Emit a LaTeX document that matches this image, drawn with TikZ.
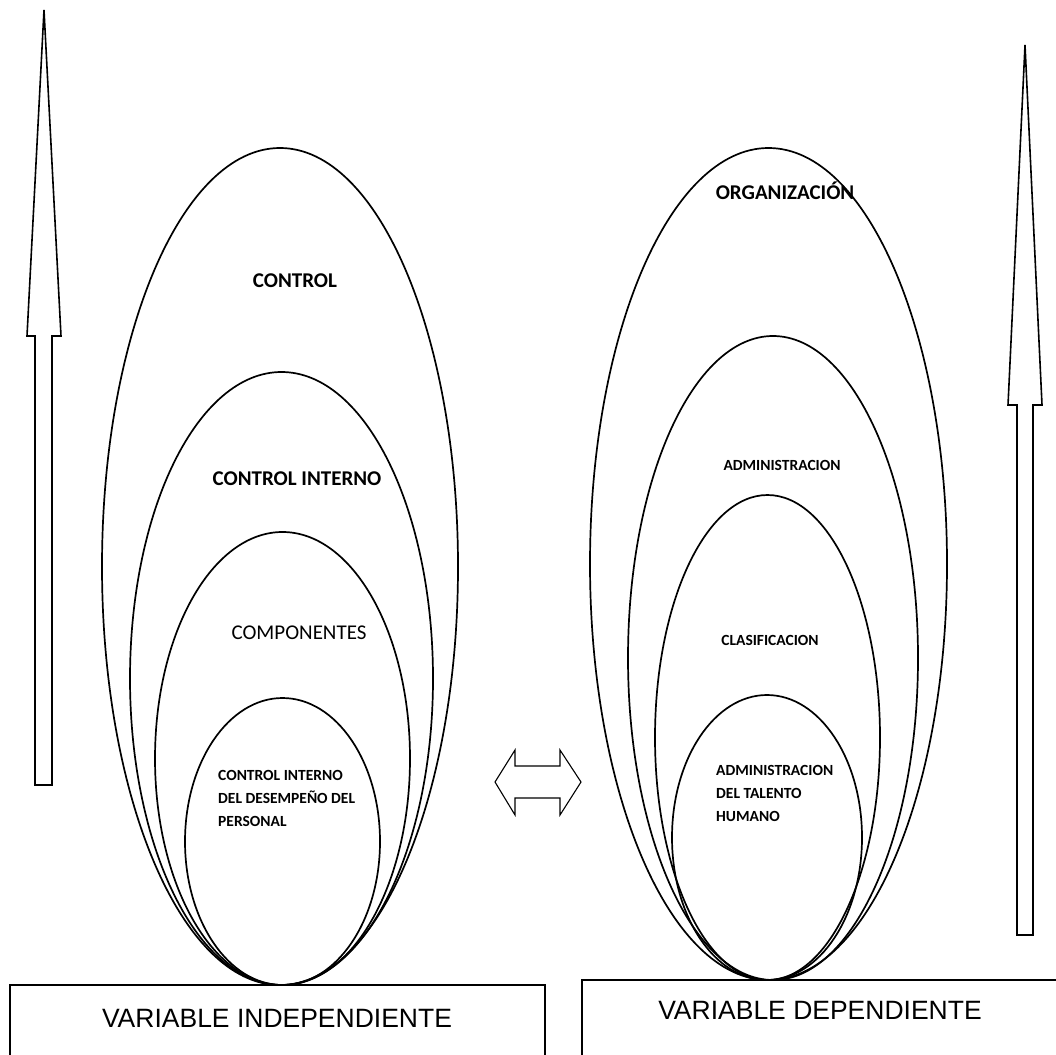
\documentclass[tikz,border=0pt]{standalone}
\usepackage{fontspec}
\setmainfont{Carlito}
\newfontfamily\cajafont{Liberation Sans}
\usetikzlibrary{shapes.geometric}
\tikzset{
  capa/.style={draw,ellipse,line width=1.7pt,inner sep=0pt},
  rotulo/.style={inner sep=0pt,anchor=base,font=\bfseries\fontsize{21}{25}\selectfont},
  chico/.style={inner sep=0pt,anchor=base,font=\bfseries\fontsize{15.5}{23}\selectfont},
  nucleo/.style={inner sep=0pt,anchor=north west,align=left,font=\bfseries\fontsize{15.5}{23}\selectfont},
  flecha/.style={draw,line width=1.6pt,line join=miter},
  caja/.style={draw,line width=1.5pt},
  cajatxt/.style={inner sep=0pt,anchor=base,font=\cajafont\fontsize{26.5}{30}\selectfont}
}
\begin{document}
\begin{tikzpicture}[x=1pt,y=-1pt]
\clip (0,0) rectangle (1056,1054);
\fill[white] (0,0) rectangle (1056,1054);
% flechas de bloque
\draw[flecha](44,10)--(61,336)--(52,336)--(52,785)--(35,785)--(35,336)--(27,336)--cycle;
\draw[flecha](1025,45)--(1042,405)--(1033,405)--(1033,935)--(1017,935)--(1017,405)--(1008,405)--cycle;
\draw[flecha,line width=1.1pt](495,782)--(515,750)--(515,766)--(560,766)--(560,750)--(581,782)--(560,815)--(560,798)--(515,798)--(515,815)--cycle;
% variable independiente
\node[capa,minimum width=356pt,minimum height=837pt](ctrl) at (280,566.5){};
\node[capa,minimum width=303pt,minimum height=613pt](ctrlint) at (281.5,678.5){};
\node[capa,minimum width=255pt,minimum height=453pt](comp) at (282.5,758.5){};
\node[capa,minimum width=195pt,minimum height=287pt](desemp) at (282.5,841.5){};
\node[rotulo](tctrl) at (295,287){CONTROL};
\node[rotulo](tctrlint) at (297,485){CONTROL INTERNO};
\node[rotulo,font=\fontsize{21}{25}\selectfont](tcomp) at (299,639){COMPONENTES};
\node[nucleo](tdesemp) at (218,770){CONTROL INTERNO\\DEL DESEMPEÑO DEL\\PERSONAL};
% variable dependiente
\node[capa,minimum width=357pt,minimum height=832pt](org) at (768.5,564){};
\node[capa,minimum width=290pt,minimum height=644pt](admin) at (773,658){};
\node[capa,minimum width=225pt,minimum height=485pt](clasif) at (767.5,737.5){};
\node[capa,minimum width=190pt,minimum height=285pt](talento) at (767,837.5){};
\node[rotulo](torg) at (785,199){ORGANIZACIÓN};
\node[chico](tadmin) at (782,470){ADMINISTRACION};
\node[chico](tclasif) at (770,645){CLASIFICACION};
\node[nucleo](ttalento) at (716,765){ADMINISTRACION\\DEL TALENTO\\HUMANO};
% cajas
\draw[caja](10,985) rectangle (545,1080);
\draw[caja](582,980) rectangle (1080,1080);
\node[cajatxt](vi) at (277,1027.5){VARIABLE INDEPENDIENTE};
\node[cajatxt](vd) at (820,1019.5){VARIABLE DEPENDIENTE};
\end{tikzpicture}
\end{document}
